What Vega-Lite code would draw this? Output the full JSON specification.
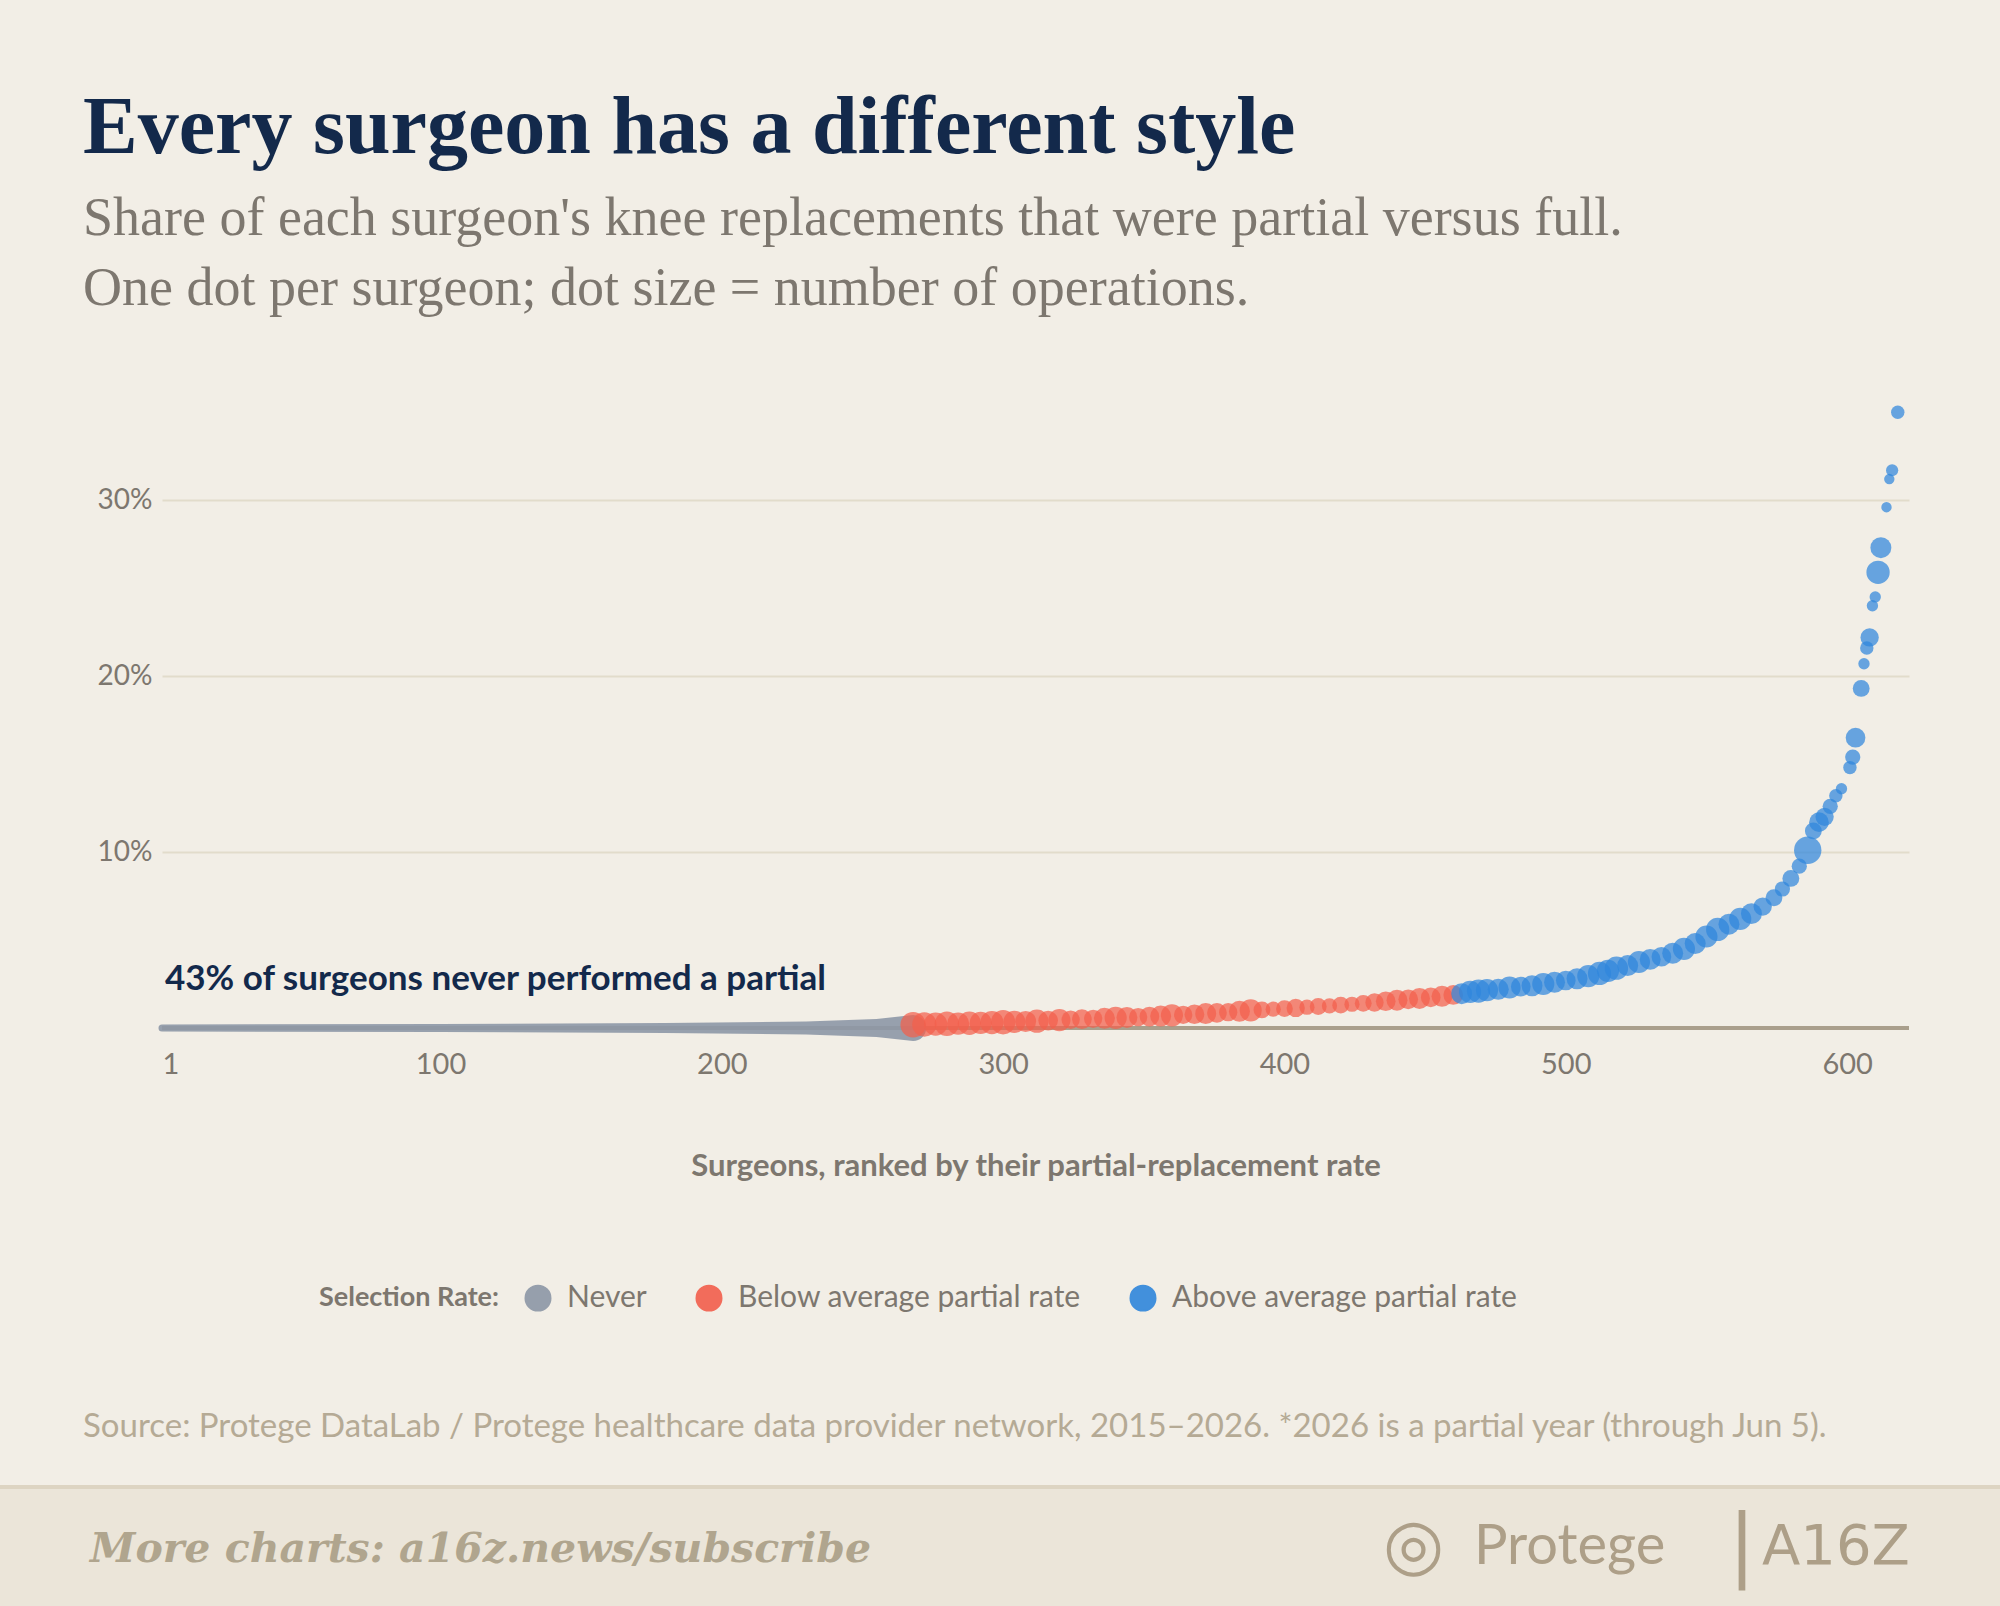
{
"$schema":"https://vega.github.io/schema/vega-lite/v6.json",
"width":1747,"height":651,
"autosize":{"type":"none"},
"padding":{"left":162,"top":377,"right":91,"bottom":578},
"background":"#f2eee6",
"config":{"view":{"stroke":null},"font":"Lato"},
"resolve":{"scale":{"size":"independent"}},
"title":{"text":"Every surgeon has a different style","subtitle":["Share of each surgeon's knee replacements that were partial versus full.","One dot per surgeon; dot size = number of operations."],"anchor":"start","frame":"group","dx":-79,"offset":60,"font":"Liberation Serif","fontSize":82,"fontWeight":"bold","color":"#13294b","subtitleFont":"Liberation Serif","subtitleFontSize":54,"subtitleColor":"#7d776f","subtitlePadding":22,"subtitleLineHeight":70},
"datasets":{
"never":[{"rank":1,"rate":0,"w":7,"group":"Never"},{"rank":100,"rate":0,"w":8,"group":"Never"},{"rank":180,"rate":0,"w":10,"group":"Never"},{"rank":230,"rate":0,"w":13,"group":"Never"},{"rank":255,"rate":0,"w":18,"group":"Never"},{"rank":268,"rate":0,"w":26,"group":"Never"}],
"dots":[
{"rank":268,"rate":0.18,"n":60,"group":"Below average partial rate"},{"rank":272,"rate":0.2,"n":55,"group":"Below average partial rate"},{"rank":276,"rate":0.22,"n":50,"group":"Below average partial rate"},{"rank":280,"rate":0.24,"n":55,"group":"Below average partial rate"},{"rank":284,"rate":0.25,"n":45,"group":"Below average partial rate"},{"rank":288,"rate":0.27,"n":50,"group":"Below average partial rate"},{"rank":292,"rate":0.29,"n":45,"group":"Below average partial rate"},{"rank":296,"rate":0.31,"n":50,"group":"Below average partial rate"},{"rank":300,"rate":0.33,"n":55,"group":"Below average partial rate"},{"rank":304,"rate":0.35,"n":45,"group":"Below average partial rate"},{"rank":308,"rate":0.37,"n":40,"group":"Below average partial rate"},{"rank":312,"rate":0.39,"n":50,"group":"Below average partial rate"},{"rank":316,"rate":0.42,"n":35,"group":"Below average partial rate"},{"rank":320,"rate":0.45,"n":45,"group":"Below average partial rate"},{"rank":324,"rate":0.47,"n":30,"group":"Below average partial rate"},{"rank":328,"rate":0.5,"n":35,"group":"Below average partial rate"},{"rank":332,"rate":0.52,"n":30,"group":"Below average partial rate"},{"rank":336,"rate":0.55,"n":40,"group":"Below average partial rate"},{"rank":340,"rate":0.58,"n":45,"group":"Below average partial rate"},{"rank":344,"rate":0.6,"n":40,"group":"Below average partial rate"},{"rank":348,"rate":0.62,"n":30,"group":"Below average partial rate"},{"rank":352,"rate":0.65,"n":35,"group":"Below average partial rate"},{"rank":356,"rate":0.68,"n":40,"group":"Below average partial rate"},{"rank":360,"rate":0.72,"n":45,"group":"Below average partial rate"},{"rank":364,"rate":0.75,"n":30,"group":"Below average partial rate"},{"rank":368,"rate":0.78,"n":35,"group":"Below average partial rate"},{"rank":372,"rate":0.82,"n":40,"group":"Below average partial rate"},{"rank":376,"rate":0.86,"n":35,"group":"Below average partial rate"},{"rank":380,"rate":0.9,"n":30,"group":"Below average partial rate"},{"rank":384,"rate":0.95,"n":40,"group":"Below average partial rate"},{"rank":388,"rate":1.0,"n":45,"group":"Below average partial rate"},{"rank":392,"rate":1.03,"n":25,"group":"Below average partial rate"},{"rank":396,"rate":1.07,"n":20,"group":"Below average partial rate"},{"rank":400,"rate":1.1,"n":25,"group":"Below average partial rate"},{"rank":404,"rate":1.14,"n":30,"group":"Below average partial rate"},{"rank":408,"rate":1.18,"n":20,"group":"Below average partial rate"},{"rank":412,"rate":1.22,"n":25,"group":"Below average partial rate"},{"rank":416,"rate":1.26,"n":20,"group":"Below average partial rate"},{"rank":420,"rate":1.3,"n":25,"group":"Below average partial rate"},{"rank":424,"rate":1.35,"n":20,"group":"Below average partial rate"},{"rank":428,"rate":1.4,"n":25,"group":"Below average partial rate"},{"rank":432,"rate":1.45,"n":30,"group":"Below average partial rate"},{"rank":436,"rate":1.52,"n":35,"group":"Below average partial rate"},{"rank":440,"rate":1.58,"n":40,"group":"Below average partial rate"},{"rank":444,"rate":1.63,"n":35,"group":"Below average partial rate"},{"rank":448,"rate":1.68,"n":40,"group":"Below average partial rate"},{"rank":452,"rate":1.74,"n":35,"group":"Below average partial rate"},{"rank":456,"rate":1.8,"n":40,"group":"Below average partial rate"},{"rank":460,"rate":1.88,"n":35,"group":"Below average partial rate"},
{"rank":463,"rate":1.95,"n":40,"group":"Above average partial rate"},{"rank":466,"rate":2.05,"n":45,"group":"Above average partial rate"},{"rank":469,"rate":2.1,"n":50,"group":"Above average partial rate"},{"rank":472,"rate":2.15,"n":45,"group":"Above average partial rate"},{"rank":476,"rate":2.2,"n":40,"group":"Above average partial rate"},{"rank":480,"rate":2.3,"n":45,"group":"Above average partial rate"},{"rank":484,"rate":2.35,"n":35,"group":"Above average partial rate"},{"rank":488,"rate":2.4,"n":40,"group":"Above average partial rate"},{"rank":492,"rate":2.5,"n":45,"group":"Above average partial rate"},{"rank":496,"rate":2.6,"n":40,"group":"Above average partial rate"},{"rank":500,"rate":2.7,"n":35,"group":"Above average partial rate"},{"rank":504,"rate":2.8,"n":40,"group":"Above average partial rate"},{"rank":508,"rate":2.95,"n":45,"group":"Above average partial rate"},{"rank":512,"rate":3.1,"n":50,"group":"Above average partial rate"},{"rank":515,"rate":3.25,"n":45,"group":"Above average partial rate"},{"rank":518,"rate":3.4,"n":50,"group":"Above average partial rate"},{"rank":522,"rate":3.55,"n":40,"group":"Above average partial rate"},{"rank":526,"rate":3.75,"n":45,"group":"Above average partial rate"},{"rank":530,"rate":3.9,"n":40,"group":"Above average partial rate"},{"rank":534,"rate":4.05,"n":35,"group":"Above average partial rate"},{"rank":538,"rate":4.25,"n":40,"group":"Above average partial rate"},{"rank":542,"rate":4.5,"n":45,"group":"Above average partial rate"},{"rank":546,"rate":4.8,"n":40,"group":"Above average partial rate"},{"rank":550,"rate":5.2,"n":45,"group":"Above average partial rate"},{"rank":554,"rate":5.6,"n":50,"group":"Above average partial rate"},{"rank":558,"rate":5.9,"n":40,"group":"Above average partial rate"},{"rank":562,"rate":6.2,"n":45,"group":"Above average partial rate"},{"rank":566,"rate":6.5,"n":40,"group":"Above average partial rate"},{"rank":570,"rate":6.9,"n":30,"group":"Above average partial rate"},{"rank":574,"rate":7.4,"n":25,"group":"Above average partial rate"},{"rank":577,"rate":7.9,"n":20,"group":"Above average partial rate"},{"rank":580,"rate":8.5,"n":25,"group":"Above average partial rate"},{"rank":583,"rate":9.2,"n":20,"group":"Above average partial rate"},{"rank":586,"rate":10.1,"n":70,"group":"Above average partial rate"},{"rank":588,"rate":11.2,"n":25,"group":"Above average partial rate"},{"rank":590,"rate":11.7,"n":35,"group":"Above average partial rate"},{"rank":592,"rate":12.0,"n":30,"group":"Above average partial rate"},{"rank":594,"rate":12.6,"n":20,"group":"Above average partial rate"},{"rank":596,"rate":13.2,"n":15,"group":"Above average partial rate"},{"rank":598,"rate":13.6,"n":10,"group":"Above average partial rate"},{"rank":601,"rate":14.8,"n":15,"group":"Above average partial rate"},{"rank":602,"rate":15.4,"n":20,"group":"Above average partial rate"},{"rank":603,"rate":16.5,"n":35,"group":"Above average partial rate"},{"rank":605,"rate":19.3,"n":25,"group":"Above average partial rate"},{"rank":606,"rate":20.7,"n":10,"group":"Above average partial rate"},{"rank":607,"rate":21.6,"n":15,"group":"Above average partial rate"},{"rank":608,"rate":22.2,"n":30,"group":"Above average partial rate"},{"rank":609,"rate":24.0,"n":10,"group":"Above average partial rate"},{"rank":610,"rate":24.5,"n":10,"group":"Above average partial rate"},{"rank":611,"rate":25.9,"n":50,"group":"Above average partial rate"},{"rank":612,"rate":27.3,"n":40,"group":"Above average partial rate"},{"rank":614,"rate":29.6,"n":8,"group":"Above average partial rate"},{"rank":615,"rate":31.2,"n":8,"group":"Above average partial rate"},{"rank":616,"rate":31.7,"n":12,"group":"Above average partial rate"},{"rank":618,"rate":35.0,"n":15,"group":"Above average partial rate"}
]},
"encoding":{
"x":{"field":"rank","type":"quantitative","scale":{"domain":[1,622],"nice":false,"zero":false},"axis":{"values":[1,100,200,300,400,500,600],"grid":false,"domain":false,"ticks":false,"labelFontSize":29,"labelColor":"#7d776f","labelPadding":22,"title":"Surgeons, ranked by their partial-replacement rate","titleFontSize":31,"titleFontWeight":"bold","titleColor":"#7d776f","titlePadding":72}},
"y":{"field":"rate","type":"quantitative","scale":{"domain":[0,37],"nice":false},"axis":{"values":[10,20,30],"labelExpr":"datum.value+'%'","grid":true,"gridColor":"#e2dccb","gridWidth":2,"domain":false,"ticks":false,"labelFontSize":28,"labelColor":"#7d776f","labelPadding":10,"title":null}}
},
"layer":[
{"data":{"values":[{"v":0}]},"mark":{"type":"rule","color":"#aa9f8c","strokeWidth":4},"encoding":{"y":{"field":"v","type":"quantitative"},"x":{"value":0},"x2":{"value":1747}}},
{"data":{"name":"never"},"mark":{"type":"trail","opacity":0.9},"encoding":{"size":{"field":"w","type":"quantitative","scale":{"domain":[0,26],"range":[0,26],"zero":true},"legend":null},"color":{"field":"group","type":"nominal"}}},
{"data":{"name":"dots"},"mark":{"type":"circle","opacity":0.72},"encoding":{"size":{"field":"n","type":"quantitative","scale":{"domain":[0,70],"range":[25,750]},"legend":null},"color":{"field":"group","type":"nominal","scale":{"domain":["Never","Below average partial rate","Above average partial rate"],"range":["#8d97a6","#f25f4c","#2f86dc"]},"legend":{"orient":"none","direction":"horizontal","legendX":157,"legendY":906,"title":"Selection Rate:","titleOrient":"left","titleFontSize":27,"titleFontWeight":"bold","titleColor":"#7d776f","titlePadding":24,"labelFontSize":30,"labelColor":"#7d776f","labelLimit":600,"symbolType":"circle","symbolSize":650,"symbolOpacity":1,"columnPadding":46,"labelOffset":14}}}},
{"data":{"values":[{"rank":1,"rate":2.8,"t":"43% of surgeons never performed a partial"}]},"mark":{"type":"text","align":"left","baseline":"middle","fontSize":35,"fontWeight":"bold","color":"#13294b","dx":3},"encoding":{"text":{"field":"t"}}},
{"data":{"values":[{"t":"Source: Protege DataLab / Protege healthcare data provider network, 2015–2026. *2026 is a partial year (through Jun 5)."}]},"mark":{"type":"text","align":"left","baseline":"middle","fontSize":33,"color":"#b5aa95"},"encoding":{"text":{"field":"t"},"x":{"value":-79},"y":{"value":1050}}},
{"data":{"values":[{"a":1}]},"mark":{"type":"rect","color":"#ebe5d9"},"encoding":{"x":{"value":-162},"x2":{"value":1838},"y":{"value":1109},"y2":{"value":1229}}},
{"data":{"values":[{"a":1}]},"mark":{"type":"rule","color":"#ddd4c2","strokeWidth":4},"encoding":{"x":{"value":-162},"x2":{"value":1838},"y":{"value":1110}}},
{"data":{"values":[{"t":"More charts: a16z.news/subscribe"}]},"mark":{"type":"text","align":"left","baseline":"middle","fontSize":41,"fontWeight":"bold","fontStyle":"italic","font":"DejaVu Serif","color":"#b0a58e"},"encoding":{"text":{"field":"t"},"x":{"value":-72},"y":{"value":1173}}},
{"data":{"values":[{"t":"Protege"}]},"mark":{"type":"text","align":"left","baseline":"middle","fontSize":56,"color":"#ad9f88","font":"Lato"},"encoding":{"text":{"field":"t"},"x":{"value":1312},"y":{"value":1170}}},
{"data":{"values":[{"t":"◎"}]},"mark":{"type":"text","align":"center","baseline":"middle","fontSize":70,"color":"#ad9f88"},"encoding":{"text":{"field":"t"},"x":{"value":1251},"y":{"value":1170}}},
{"data":{"values":[{"t":"|"}]},"mark":{"type":"text","align":"center","baseline":"middle","fontSize":80,"color":"#ad9f88","font":"DejaVu Sans"},"encoding":{"text":{"field":"t"},"x":{"value":1580},"y":{"value":1170}}},
{"data":{"values":[{"t":"A16Z"}]},"mark":{"type":"text","align":"left","baseline":"middle","fontSize":56,"color":"#ad9f88","font":"DejaVu Sans"},"encoding":{"text":{"field":"t"},"x":{"value":1600},"y":{"value":1170}}}
]
}
